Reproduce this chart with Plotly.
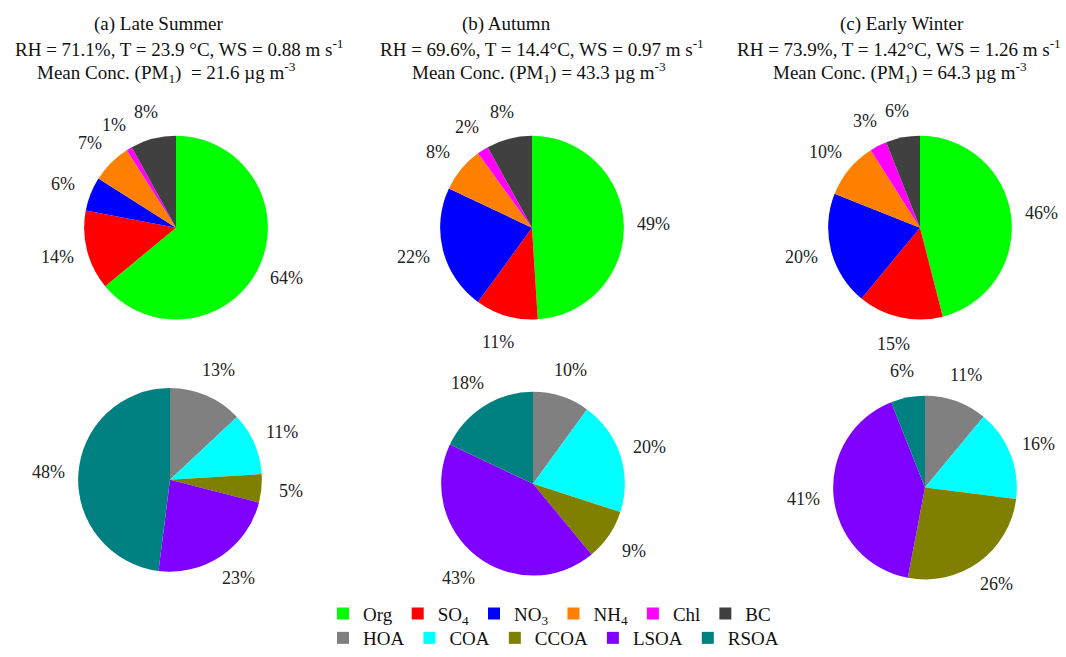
import math
import plotly.graph_objects as go

W, H = 1066, 657

species = ["Org", "SO<sub>4</sub>", "NO<sub>3</sub>", "NH<sub>4</sub>", "Chl", "BC"]
species_colors = ["#00FF00", "#FF0000", "#0000FF", "#FF8000", "#FF00FF", "#404040"]
late_summer_species = [64, 14, 6, 7, 1, 8]
autumn_species = [49, 11, 22, 8, 2, 8]
early_winter_species = [46, 15, 20, 10, 3, 6]

factors = ["HOA", "COA", "CCOA", "LSOA", "RSOA"]
factor_colors = ["#808080", "#00FFFF", "#808000", "#8000FF", "#008080"]
late_summer_factors = [13, 11, 5, 23, 48]
autumn_factors = [10, 20, 9, 43, 18]
early_winter_factors = [11, 16, 26, 41, 6]

title_lines = [
    ["(a) Late Summer",
     "RH = 71.1%, T = 23.9 °C, WS = 0.88 m s<sup>-1</sup>",
     "Mean Conc. (PM<sub>1</sub>)\u00a0 = 21.6 µg m<sup>-3</sup>"],
    ["(b) Autumn",
     "RH = 69.6%, T = 14.4°C, WS = 0.97 m s<sup>-1</sup>",
     "Mean Conc. (PM<sub>1</sub>) = 43.3 µg m<sup>-3</sup>"],
    ["(c) Early Winter",
     "RH = 73.9%, T = 1.42°C, WS = 1.26 m s<sup>-1</sup>",
     "Mean Conc. (PM<sub>1</sub>) = 64.3 µg m<sup>-3</sup>"],
]

FONT = "Liberation Serif"
R = 94          # pie radius in px
LABEL_R = 122   # distance of percentage labels from pie centre

def dom(cx, cy, r=R):
    return dict(x=[(cx - r) / W, (cx + r) / W], y=[1 - (cy + r) / H, 1 - (cy - r) / H])

fig = go.Figure()
annotations = []

def add_labels(vals, cx, cy):
    total = sum(vals)
    cum = 0
    for v in vals:
        mid = (cum + v / 2) / total * 2 * math.pi
        cum += v
        x = cx + LABEL_R * math.sin(mid)
        y = cy - LABEL_R * math.cos(mid)
        annotations.append(dict(
            text=f"{v}%", x=x / W, y=1 - y / H, xref="paper", yref="paper",
            xanchor="center", yanchor="middle", showarrow=False,
            font=dict(family=FONT, size=18, color="#222"),
        ))

top = [late_summer_species, autumn_species, early_winter_species]
bot = [late_summer_factors, autumn_factors, early_winter_factors]
top_centers = [(176, 233), (532, 233), (920, 233)]
bot_centers = [(170, 491), (533, 495), (925, 499)]

for vals, (cx, cy) in zip(top, top_centers):
    fig.add_trace(go.Pie(
        labels=species, values=vals, sort=False, direction="clockwise", rotation=0,
        marker=dict(colors=species_colors, line=dict(width=0)),
        textinfo="none", domain=dom(cx, cy), legend="legend", hoverinfo="label+value",
    ))
    add_labels(vals, cx, cy)

for vals, (cx, cy) in zip(bot, bot_centers):
    fig.add_trace(go.Pie(
        labels=factors, values=vals, sort=False, direction="clockwise", rotation=0,
        marker=dict(colors=factor_colors, line=dict(width=0)),
        textinfo="none", domain=dom(cx, cy), legend="legend2", hoverinfo="label+value",
    ))
    add_labels(vals, cx, cy)

title_x = [[158, 179, 166], [506, 542, 539], [902, 899, 900]]
title_y = [25, 49, 74]
for lines, xs in zip(title_lines, title_x):
    for line, x, y in zip(lines, xs, title_y):
        annotations.append(dict(
            text=line, x=x / W, y=1 - y / H, xref="paper", yref="paper",
            xanchor="center", yanchor="middle", showarrow=False,
            font=dict(family=FONT, size=19, color="#111"),
        ))

fig.update_layout(
    width=W, height=H,
    margin=dict(l=0, r=0, t=0, b=0),
    paper_bgcolor="white", plot_bgcolor="white",
    font=dict(family=FONT, size=18, color="#111"),
    annotations=annotations,
    legend=dict(orientation="h", x=323 / W, xanchor="left", y=1 - 628 / H, yanchor="middle",
                font=dict(family=FONT, size=19, color="#111"), bgcolor="rgba(0,0,0,0)",
                itemclick=False),
    legend2=dict(orientation="h", x=323 / W, xanchor="left", y=1 - 653 / H, yanchor="middle",
                 font=dict(family=FONT, size=19, color="#111"), bgcolor="rgba(0,0,0,0)",
                 itemclick=False),
)

fig.write_html("out.html")
